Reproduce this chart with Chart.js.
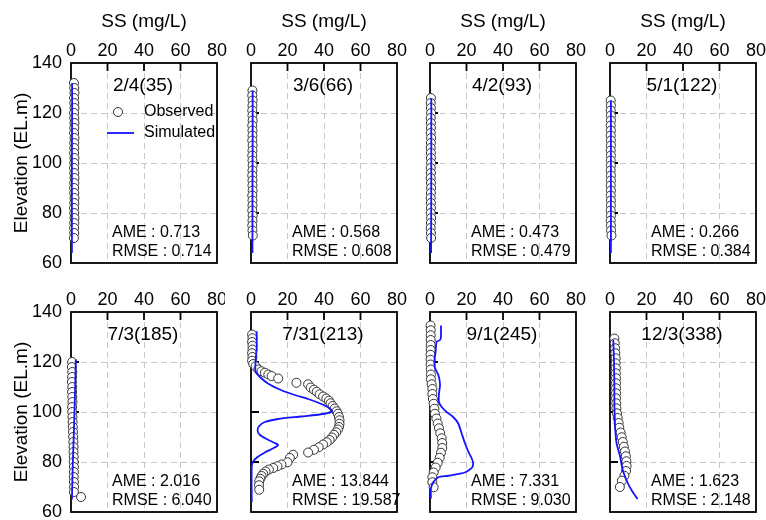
<!DOCTYPE html>
<html>
<head>
<meta charset="utf-8">
<script src="https://cdn.jsdelivr.net/npm/chart.js@4.4.1/dist/chart.umd.min.js"></script>
<style>
  html, body { margin: 0; padding: 0; background: #fff; }
  #wrap { position: relative; width: 766px; height: 520px; overflow: hidden; }
  #wrap canvas { position: absolute; }
</style>
</head>
<body>
<div id="wrap"></div>
<script>
/* SS profiles: observed (circles) vs simulated (blue line), 8 dates */

const panelDates = ['2/4(35)', '3/6(66)', '4/2(93)', '5/1(122)', '7/3(185)', '7/31(213)', '9/1(245)', '12/3(338)'];
const ameVals  = ['0.713', '0.568', '0.473', '0.266', '2.016', '13.844', '7.331', '1.623'];
const rmseVals = ['0.714', '0.608', '0.479', '0.384', '6.040', '19.587', '9.030', '2.148'];
const ssTicks = [0, 20, 40, 60, 80];
const elevTicks = [60, 80, 100, 120, 140];

// 2/4(35)
const obsElev1 = [132,130,128,126,124,122,120,118,116,114,112,110,108,106,104,102,100,98,96,94,92,90,88,86,84,82,80,78,76,74,72,70];
const obsSS1   = [1.6,1.8,1.9,1.7,1.8,1.9,1.7,1.8,1.9,1.8,1.7,1.9,1.8,1.8,1.7,1.9,1.8,1.7,1.8,1.9,1.8,1.7,1.8,1.9,1.8,1.7,1.8,1.9,1.8,1.7,1.8,1.6];
const simElev1 = [132,120,100,80,64];
const simSS1   = [0.6,0.6,0.5,0.5,0.5];

// 3/6(66)
const obsElev2 = [129,127,125,123,121,119,117,115,113,111,109,107,105,103,101,99,97,95,93,91,89,87,85,83,81,79,77,75,73,71];
const obsSS2   = [0.8,0.7,0.9,0.8,0.7,0.8,0.9,0.7,0.8,0.8,0.7,0.9,0.8,0.7,0.8,0.9,0.8,0.7,0.8,0.8,0.9,0.7,0.8,0.8,0.7,0.9,0.8,0.7,0.8,1.0];
const simElev2 = [129,110,90,64];
const simSS2   = [0.9,0.9,0.8,0.8];

// 4/2(93)
const obsElev3 = [126,124,122,120,118,116,114,112,110,108,106,104,102,100,98,96,94,92,90,88,86,84,82,80,78,76,74,72,70];
const obsSS3   = [0.5,0.4,0.5,0.6,0.4,0.5,0.5,0.4,0.6,0.5,0.4,0.5,0.5,0.6,0.4,0.5,0.4,0.5,0.6,0.5,0.4,0.5,0.5,0.4,0.6,0.5,0.4,0.5,0.6];
const simElev3 = [126,100,64];
const simSS3   = [0.7,0.7,0.6];

// 5/1(122)
const obsElev4 = [125,123,121,119,117,115,113,111,109,107,105,103,101,99,97,95,93,91,89,87,85,83,81,79,77,75,73,71];
const obsSS4   = [0.4,0.5,0.4,0.5,0.5,0.4,0.5,0.4,0.5,0.5,0.4,0.5,0.4,0.5,0.4,0.5,0.5,0.4,0.5,0.4,0.5,0.5,0.4,0.5,0.4,0.5,0.6,0.8];
const simElev4 = [125,100,64];
const simSS4   = [0.5,0.5,0.5];

// 7/3(185)
const obsElev5 = [120,118,116,114,112,110,108,106,104,102,100,98,96,94,92,90,88,86,84,82,80,78,76,74,72,70,68,66];
const obsSS5   = [0.6,0.5,0.7,0.6,0.5,0.7,0.6,0.7,0.8,0.6,0.7,0.8,0.9,1.0,1.1,1.2,1.3,1.4,1.4,1.5,1.5,1.6,1.6,1.5,1.6,1.7,1.6,5.5];
const simElev5 = [121,110,100,90,80,65];
const simSS5   = [2.6,2.3,1.9,1.5,1.0,0.5];

// 7/31(213)
const obsElev6 = [131,129.5,128,126.5,125,123.5,122,120.5,119.2,118.3,117.0,116.3,115.7,115.0,114.4,113.4,111.7,111.1,109.8,108.9,108.1,107.1,106.2,105.4,104.5,103.5,102.4,101.4,100.3,99.3,98.0,96.7,95.3,94.0,93.0,91.9,90.9,89.8,88.8,87.9,87.0,85.9,84.9,83.8,82.9,81.6,79.9,79.0,78.3,77.6,77.0,76.2,75.3,74.4,73.3,72.3,70.7,68.9];
const obsSS6   = [0.6,0.8,0.6,0.8,0.8,0.6,0.8,0.6,1.2,2.5,4.0,5.8,7.6,9.5,11.3,14.9,24.9,31.3,32.7,34.5,36.0,37.6,39.5,41.3,42.7,43.6,44.7,45.8,46.9,47.6,48.2,48.5,48.5,48.2,47.6,46.7,45.5,44.4,43.1,41.5,39.5,37.1,34.5,31.3,23.1,21.3,20.0,16.7,14.5,12.2,9.8,8.0,6.7,5.8,5.1,4.5,4.4,4.5];
const simElev6 = [132.3,125.5,120.3,116.3,114.0,111.3,108.7,106.8,105.2,103.5,101.9,100.3,99.3,98.2,97.2,96.0,94.3,92.5,90.8,89.2,87.7,86.8,85.5,83.8,82.0,80.3,78.3,64];
const simSS6   = [3.1,3.1,2.5,2.5,4.9,9.5,16.7,24.0,31.3,37.6,42.2,44.4,40.4,27.6,14.9,7.6,4.4,3.6,4.9,8.5,12.7,14.9,12.2,7.6,3.6,1.3,0.4,0.4];

// 9/1(245)
const obsElev7 = [134.6,132.7,130.7,128.8,126.8,124.8,122.9,120.9,119.0,117.0,115.0,113.1,111.1,109.2,107.2,105.2,103.3,101.3,99.3,97.4,95.4,93.5,91.5,89.5,87.6,85.6,83.7,81.7,79.7,77.8,75.8,73.9,71.9,69.9];
const obsSS7   = [0.3,0.4,0.4,0.4,0.4,0.4,0.3,0.3,0.3,0.4,0.5,0.5,0.9,1.3,1.3,1.6,2.0,2.4,2.7,3.5,4.2,4.9,5.6,6.4,6.7,6.7,6.0,5.3,4.2,3.1,2.0,1.3,1.3,2.0];
const simElev7 = [134.6,130,128.8,128.1,124.2,120.3,117.6,115,111.1,107.2,103.9,102,100,98,95.4,91.5,87.6,84.3,81.7,79.7,77.8,75.8,74.5,73.9,71.9,69.3,65.4];
const simSS7   = [6,6,5.5,3.6,3.1,2.4,2.7,4.5,5.5,4.9,4.9,6.4,9.1,12.7,15.5,17.3,19.1,20.9,22.7,23.6,23.1,19.1,10,4.5,1.8,0.5,0.5];

// 12/3(338)
const obsElev8 = [129.4,127.5,125.5,123.5,121.5,119.5,117.5,115.5,113.5,111.5,109.5,107.5,105.5,103.5,101.5,99.5,97.6,95.6,93.7,91.8,89.9,88.0,86.1,84.2,82.3,80.3,78.4,76.4,74.5,72.5,70.0];
const obsSS8   = [2.4,2.6,2.8,2.9,3.1,3.1,3.2,3.2,3.3,3.3,3.3,3.3,3.3,3.4,3.5,3.8,4.2,4.7,5.1,5.8,6.4,7.0,7.6,8.2,8.7,9.0,9.1,8.8,7.9,6.5,5.4];
const simElev8 = [128.8,120,110,103,96,92.7,87.5,82.3,77,71.8,68.5,65.2];
const simSS8   = [1.8,2.2,2.4,2.4,2.7,2.9,3.6,5.5,6.9,9.6,12,15.1];

const obsElev = [obsElev1, obsElev2, obsElev3, obsElev4, obsElev5, obsElev6, obsElev7, obsElev8];
const obsSS   = [obsSS1, obsSS2, obsSS3, obsSS4, obsSS5, obsSS6, obsSS7, obsSS8];
const simElev = [simElev1, simElev2, simElev3, simElev4, simElev5, simElev6, simElev7, simElev8];
const simSS   = [simSS1, simSS2, simSS3, simSS4, simSS5, simSS6, simSS7, simSS8];

// layout
const FONT = "'Liberation Sans', Arial, sans-serif";
const PLOT_W = 146, PLOT_H = 200;
const plotLefts = [71, 251, 430, 610];
const plotTops = [63, 312];
const canvasTops = [0, 270];

Chart.defaults.font.family = FONT;
Chart.defaults.color = '#000';

const pair = (xs, ys) => xs.map((v, k) => ({ x: v, y: ys[k] }));

const panelDeco = {
  id: 'panelDeco',
  beforeDatasetsDraw(chart, args, o) {
    const { ctx, chartArea: a, scales: { x, y } } = chart;
    ctx.save();
    ctx.strokeStyle = '#000';
    ctx.lineWidth = 1.8;
    ctx.strokeRect(a.left, a.top, a.right - a.left, a.bottom - a.top);
    ctx.beginPath();
    x.ticks.forEach(t => {
      if (t.value > x.min && t.value < x.max) {
        const px = x.getPixelForValue(t.value);
        ctx.moveTo(px, a.top); ctx.lineTo(px, a.top + 8);
      }
    });
    y.ticks.forEach(t => {
      if (t.value > y.min && t.value < y.max) {
        const py = y.getPixelForValue(t.value);
        ctx.moveTo(a.left, py); ctx.lineTo(a.left + 8, py);
      }
    });
    ctx.stroke();
    ctx.restore();
  },
  afterDatasetsDraw(chart, args, o) {
    const { ctx, chartArea: a } = chart;
    ctx.save();
    ctx.fillStyle = '#000';
    ctx.textBaseline = 'middle';
    ctx.font = '19px ' + FONT;
    ctx.textAlign = 'center';
    ctx.fillText(o.date, a.left + 72, a.top + 23);
    ctx.textAlign = 'left';
    ctx.font = '16px ' + FONT;
    ctx.fillText('AME : ' + o.ame, a.left + 41, a.bottom - 30);
    ctx.fillText('RMSE : ' + o.rmse, a.left + 41, a.bottom - 11);
    if (o.legend) {
      ctx.fillText('Observed', a.left + 73, a.top + 49);
      ctx.fillText('Simulated', a.left + 73, a.top + 70);
      ctx.beginPath();
      ctx.arc(a.left + 47, a.top + 49, 4.5, 0, Math.PI * 2);
      ctx.fillStyle = '#fff'; ctx.fill();
      ctx.strokeStyle = '#333'; ctx.lineWidth = 1; ctx.stroke();
      ctx.beginPath();
      ctx.moveTo(a.left + 36, a.top + 70); ctx.lineTo(a.left + 63, a.top + 70);
      ctx.strokeStyle = '#1414ff'; ctx.lineWidth = 1.8; ctx.stroke();
    }
    ctx.restore();
  }
};

const edgeColor = (lo, hi) => c => (c.tick && (c.tick.value === lo || c.tick.value === hi)) ? 'rgba(0,0,0,0)' : '#c8c8c8';

function makePanel(i) {
  const row = Math.floor(i / 4), col = i % 4;
  const plotLeft = plotLefts[col], plotTop = plotTops[row];
  const L = col === 0 ? plotLeft : 12;
  const T = plotTop - canvasTops[row];
  const R = i === 4 ? 8 : 14;
  const B = row === 0 ? 14 : 520 - plotTop - PLOT_H;

  const cv = document.createElement('canvas');
  cv.width = L + PLOT_W + R;
  cv.height = T + PLOT_H + B;
  cv.style.left = (plotLeft - L) + 'px';
  cv.style.top = canvasTops[row] + 'px';
  document.getElementById('wrap').appendChild(cv);

  new Chart(cv, {
    type: 'scatter',
    data: { datasets: [
      { label: 'Simulated', data: pair(simSS[i], simElev[i]), showLine: true, pointRadius: 0,
        borderColor: '#1414ff', borderWidth: 1.8, tension: 0.2, fill: false, clip: false },
      { label: 'Observed', data: pair(obsSS[i], obsElev[i]), showLine: false, pointRadius: 4.5,
        pointBorderColor: '#333', pointBackgroundColor: '#fff', pointBorderWidth: 1, clip: false }
    ] },
    options: {
      responsive: false, animation: false, events: [],
      layout: { padding: { left: 0, top: 0, right: R, bottom: B } },
      plugins: {
        legend: { display: false }, tooltip: { enabled: false },
        panelDeco: { date: panelDates[i], ame: ameVals[i], rmse: rmseVals[i], legend: i === 0 }
      },
      scales: {
        x: {
          type: 'linear', position: 'top', min: ssTicks[0], max: ssTicks[ssTicks.length - 1],
          ticks: { stepSize: 20, font: { size: 18 }, color: '#000', padding: 1 },
          grid: { drawTicks: false, color: edgeColor(0, 80), lineWidth: 1 },
          border: { display: false, dash: [6, 4] },
          title: { display: row === 0, text: 'SS (mg/L)', font: { size: 19 }, color: '#000', padding: { top: 10, bottom: 0 } },
          afterFit: s => { s.height = T; s.paddingLeft = 0; s.paddingRight = 0; }
        },
        y: {
          type: 'linear', position: 'left', min: elevTicks[0], max: elevTicks[elevTicks.length - 1],
          ticks: { display: col === 0, stepSize: 20, font: { size: 18 }, color: '#000', padding: 9 },
          grid: { drawTicks: false, color: edgeColor(60, 140), lineWidth: 1 },
          border: { display: false, dash: [6, 4] },
          title: { display: col === 0, text: 'Elevation (EL.m)', font: { size: 19 }, color: '#000', padding: { top: 10, bottom: 0 } },
          afterFit: s => { s.width = L; s.paddingTop = 0; s.paddingBottom = 0; }
        }
      }
    },
    plugins: [panelDeco]
  });
}

for (let i = 0; i < 8; i++) makePanel(i);
</script>
</body>
</html>
